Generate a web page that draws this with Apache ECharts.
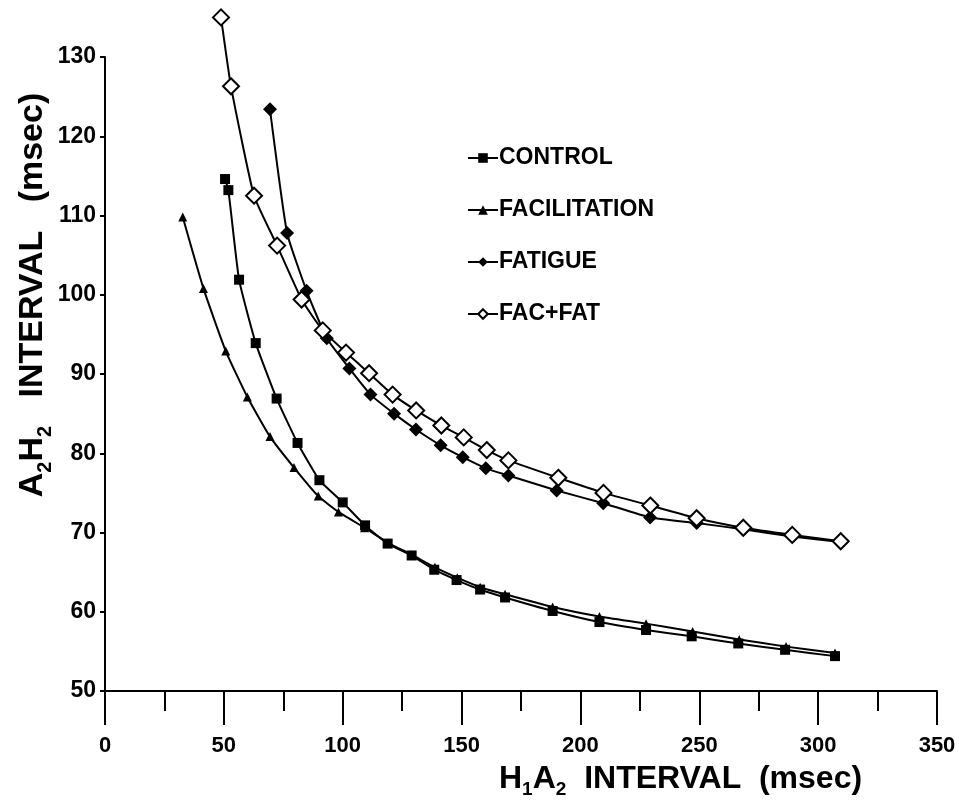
<!DOCTYPE html>
<html>
<head>
<meta charset="utf-8">
<script src="https://cdn.jsdelivr.net/npm/echarts@6/dist/echarts.min.js"></script>
<style>
  html, body { margin: 0; padding: 0; background: #fff; }
  #chart { width: 959px; height: 809px; }
</style>
</head>
<body>
<div id="chart"></div>
<script>
const seriesNames = ['CONTROL', 'FACILITATION', 'FATIGUE', 'FAC+FAT'];

const controlX = [50.5, 51.9, 56.4, 63.4, 72.2, 81, 90.2, 100, 109.4, 118.9, 129, 138.5, 147.9, 157.8, 168.3, 188.3, 208, 227.6, 246.8, 266.4, 286.1, 307.1];
const controlY = [114.6, 113.2, 101.9, 93.9, 86.9, 81.3, 76.6, 73.8, 70.9, 68.6, 67.1, 65.3, 64.0, 62.8, 61.8, 60.1, 58.7, 57.7, 56.9, 56.0, 55.2, 54.4];

const facilX = [32.7, 41.4, 50.8, 59.9, 69.4, 79.5, 89.7, 98.2, 109.2, 119, 129, 138.8, 148.2, 157.8, 168.3, 188.3, 208, 227.6, 247.2, 266.8, 286.5, 307.1];
const facilY = [109.8, 100.8, 92.9, 87.1, 82.1, 78.2, 74.6, 72.6, 70.6, 68.7, 67.2, 65.6, 64.3, 63.1, 62.2, 60.6, 59.4, 58.5, 57.5, 56.5, 55.6, 54.8];

const fatigueX = [69.4, 76.6, 84.8, 93.3, 102.8, 111.7, 121.6, 130.8, 141.2, 150.5, 160.2, 169.7, 190, 209.6, 229.3, 248.9, 268.5, 289.1, 309.5];
const fatigueY = [123.4, 107.8, 100.5, 94.5, 90.7, 87.4, 85.0, 83.0, 81.0, 79.5, 78.1, 77.2, 75.3, 73.7, 71.9, 71.2, 70.4, 69.5, 68.8];

const facFatX = [48.8, 53.0, 62.7, 72.4, 82.7, 91.6, 101.4, 111.1, 121, 130.9, 141.5, 150.9, 160.6, 169.7, 190.7, 209.7, 229.4, 248.9, 268.5, 289.1, 309.5];
const facFatY = [135.0, 126.3, 112.5, 106.2, 99.4, 95.5, 92.7, 90.1, 87.4, 85.4, 83.5, 82.0, 80.4, 79.1, 76.9, 75.0, 73.4, 71.8, 70.6, 69.7, 68.9];

const xTicks = [0, 50, 100, 150, 200, 250, 300, 350];
const yTicks = [50, 60, 70, 80, 90, 100, 110, 120, 130];

const FONT = '"Liberation Sans Narrow", "Arial Narrow", "Liberation Sans", sans-serif';

const zip = (xs, ys) => xs.map((x, i) => [x, ys[i]]);

const chart = echarts.init(document.getElementById('chart'));

const lineBase = {
  type: 'line',
  smooth: 0.15,
  clip: false,
  lineStyle: { color: '#000', width: 2 },
  itemStyle: { color: '#000' },
  z: 3
};

const option = {
  backgroundColor: '#fff',
  animation: false,
  grid: { left: 105, right: 22, top: 57, bottom: 118 },
  title: {
    text: '{n|H}{s|1}{n|A}{s|2}{n|  INTERVAL  (msec)}',
    left: 494,
    top: 756,
    textStyle: {
      rich: {
        n: { fontFamily: FONT, fontWeight: 'bold', fontSize: 32, color: '#000', lineHeight: 36 },
        s: { fontFamily: FONT, fontWeight: 'bold', fontSize: 19, color: '#000', lineHeight: 36, padding: [22, 0, 0, 0] }
      }
    }
  },
  graphic: [{
    type: 'text',
    x: 33,
    y: 295,
    rotation: Math.PI / 2,
    style: {
      text: '{n|A}{s|2}{n|H}{s|2}{n|   INTERVAL   (msec)}',
      align: 'center',
      verticalAlign: 'middle',
      rich: {
        n: { fontFamily: FONT, fontWeight: 'bold', fontSize: 34, fill: '#000', lineHeight: 38 },
        s: { fontFamily: FONT, fontWeight: 'bold', fontSize: 20, fill: '#000', lineHeight: 38, padding: [24, 0, 0, 0] }
      }
    }
  }],
  legend: {
    orient: 'vertical',
    left: 462,
    top: 139,
    itemWidth: 30,
    itemHeight: 12,
    itemGap: 24,
    data: seriesNames,
    textStyle: { fontFamily: FONT, fontWeight: 'bold', fontSize: 23, color: '#000', lineHeight: 28, padding: [0, 0, 0, -4] }
  },
  xAxis: {
    type: 'value',
    min: 0,
    max: 350,
    interval: 50,
    axisLine: { lineStyle: { color: '#000', width: 2 } },
    axisTick: { inside: false, length: 34, lineStyle: { color: '#000', width: 2 } },
    minorTick: { show: true, splitNumber: 2, length: 20, lineStyle: { color: '#000', width: 2 } },
    splitLine: { show: false },
    axisLabel: {
      margin: 44,
      fontFamily: FONT,
      fontWeight: 'bold',
      fontSize: 22,
      color: '#000',
      formatter: v => (xTicks.includes(v) ? String(v) : '')
    }
  },
  yAxis: {
    type: 'value',
    min: 50,
    max: 130,
    interval: 10,
    axisLine: { lineStyle: { color: '#000', width: 2 } },
    axisTick: { length: 5, lineStyle: { color: '#000', width: 2 } },
    splitLine: { show: false },
    axisLabel: {
      margin: 9,
      fontFamily: FONT,
      fontWeight: 'bold',
      fontSize: 23,
      color: '#000',
      formatter: v => (yTicks.includes(v) ? String(v) : '')
    }
  },
  series: [
    Object.assign({}, lineBase, {
      name: seriesNames[0],
      symbol: 'rect',
      symbolSize: 10,
      data: zip(controlX, controlY)
    }),
    Object.assign({}, lineBase, {
      name: seriesNames[1],
      symbol: 'triangle',
      symbolSize: 9,
      data: zip(facilX, facilY)
    }),
    Object.assign({}, lineBase, {
      name: seriesNames[2],
      symbol: 'diamond',
      symbolSize: 14,
      data: zip(fatigueX, fatigueY)
    }),
    Object.assign({}, lineBase, {
      name: seriesNames[3],
      symbol: 'emptyDiamond',
      symbolSize: 16,
      itemStyle: { color: '#000', borderWidth: 2 },
      data: zip(facFatX, facFatY)
    })
  ]
};

chart.setOption(option);
</script>
</body>
</html>
